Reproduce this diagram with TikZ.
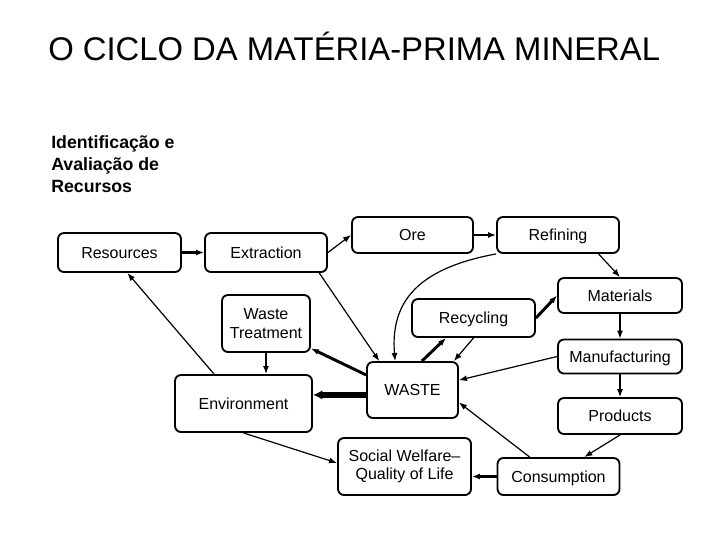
\documentclass[tikz,border=0pt]{standalone}
\usepackage{fontspec}
\setmainfont{Liberation Sans}
\usetikzlibrary{arrows.meta}

\tikzset{
  >={Latex[length=6pt,width=4.5pt]},
  stage/.style={draw, rectangle, rounded corners=4.5pt, line width=1.4pt, align=center,
    inner sep=0pt, font=\fontsize{12}{14}\selectfont},
  oneline/.style={stage, text height=8.6pt, text depth=0pt},
  sz/.style 2 args={minimum width=#1*0.75pt, minimum height=#2*0.75pt},
  flow/.style={->, line width=0.9pt},
  heavy/.style={->, line width=2.2pt},
  heaviest/.style={-{Latex[length=7pt,width=7pt]}, line width=4.5pt},
}

\begin{document}
\begin{tikzpicture}[x=0.75pt, y=-0.75pt]
  \useasboundingbox (0,0) rectangle (720,540);

  \node[anchor=base west, inner sep=0pt, font=\fontsize{24.6}{28}\selectfont] (title) at (48,60)
    {O CICLO DA MATÉRIA-PRIMA MINERAL};
  \node[anchor=north west, inner sep=0pt, align=left, font=\bfseries\fontsize{13.3}{16.5}\selectfont] (ident) at (51,135)
    {Identificação e\\Avaliação de\\Recursos};

  \node[oneline, sz={123}{39}] (res) at (119.5,252.5) {Resources};
  \node[oneline, sz={122}{39}] (ext) at (266,252.5) {Extraction};
  \node[oneline, sz={121}{36}] (ore) at (412.5,235) {Ore};
  \node[oneline, sz={122}{36}] (ref) at (558,235) {Refining};
  \node[oneline, sz={124}{35}] (mat) at (620,295.5) {Materials};
  \node[oneline, sz={123}{38}] (rec) at (473.5,318) {Recycling};
  \node[stage, sz={88}{57}] (wt) at (266,323.5) {Waste\\Treatment};
  \node[oneline, sz={124}{34}] (man) at (620,356.5) {Manufacturing};
  \node[oneline, sz={137}{57}] (env) at (243.5,403.5) {Environment};
  \node[oneline, sz={91}{56}] (waste) at (412.5,390) {WASTE};
  \node[oneline, sz={124}{36}] (prod) at (620,416) {Products};
  \node[stage, sz={133}{57}] (soc) at (404.5,466.5) {Social Welfare–\\Quality of Life};
  \node[oneline, sz={122}{37}] (con) at (558.5,476.5) {Consumption};

  \draw[->, line width=1.6pt] (res) -- (ext);
  \draw[flow] (ext.east) -- (ore.west);
  \draw[->, line width=1.6pt] (ore) -- (ref);
  \draw[flow] (ref.-25) -- (mat.north);
  \draw[flow] (ref.197) .. controls (420,268) and (390,300) .. (waste.121);
  \draw[flow] (ext.-21) -- (waste.139);
  \draw[heavy] (rec.east) -- (mat.west);
  \draw[heavy] (waste.72) -- (rec.216);
  \draw[flow] (rec.south) -- (waste.35);
  \draw[flow] (mat) -- (man);
  \draw[flow] (man.west) -- (waste.12);
  \draw[flow] (man) -- (prod);
  \draw[flow] (prod.south) -- (con.37);
  \draw[flow] (con.146) -- (waste.-15);
  \draw[heavy] (con.west) -- (con.west -| soc.east);
  \draw[heaviest] (waste.186) -- (waste.186 -| env.east);
  \draw[heavy] (waste.162) -- (wt.-29);
  \draw[heavy] (wt.south) -- (wt.south |- env.north);
  \draw[flow] (env.135) -- (res.-69);
  \draw[flow] (env.south) -- (soc.177);
\end{tikzpicture}
\end{document}
